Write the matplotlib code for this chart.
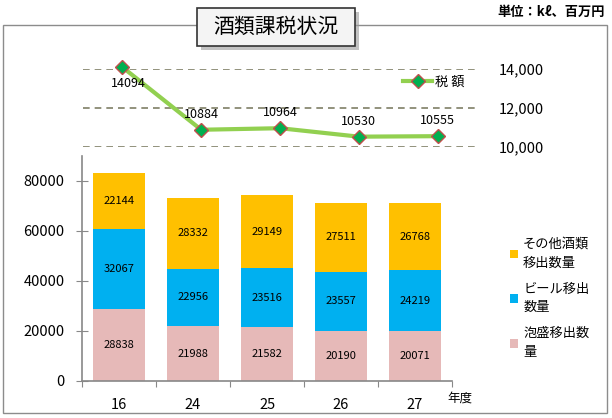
import numpy as np
import matplotlib
matplotlib.use("Agg")
import matplotlib.pyplot as plt
from matplotlib.patches import Rectangle

plt.rcParams['font.family'] = ['Noto Sans CJK JP', 'DejaVu Sans']

years = ['16', '24', '25', '26', '27']
awamori = [28838, 21988, 21582, 20190, 20071]
beer = [32067, 22956, 23516, 23557, 24219]
other = [22144, 28332, 29149, 27511, 26768]
tax = [14094, 10884, 10964, 10530, 10555]

c_awamori = '#E6B9B8'
c_beer = '#00B0F0'
c_other = '#FFC000'

W, H = 612, 418
fig = plt.figure(figsize=(6.12, 4.18), dpi=100)
fig.patch.set_facecolor('white')

def fx(px):
    return px / W

def fy(py):
    return 1 - py / H

# outer frame
fig.patches.append(Rectangle((fx(3), fy(413)), fx(604), 388 / H, transform=fig.transFigure,
                             fill=False, edgecolor='#8c8c8c', linewidth=1.0))

# ---- bar chart ----
ax = fig.add_axes([fx(82), fy(381), fx(370), (381 - 156) / H])
x = np.arange(len(years))
b1 = ax.bar(x, awamori, width=0.7, color=c_awamori, label='泡盛移出数\n量')
b2 = ax.bar(x, beer, width=0.7, bottom=awamori, color=c_beer, label='ビール移出\n数量')
bottom2 = np.array(awamori) + np.array(beer)
b3 = ax.bar(x, other, width=0.7, bottom=bottom2, color=c_other, label='その他酒類\n移出数量')
for bars in (b1, b2, b3):
    ax.bar_label(bars, label_type='center', fontsize=8, color='black')

ax.set_xlim(-0.5, len(years) - 0.5)
ax.set_ylim(0, 90000)
ax.set_yticks([0, 20000, 40000, 60000, 80000])
ax.set_yticklabels(['0', '20000', '40000', '60000', '80000'])
ax.set_xticks(np.arange(len(years) + 1) - 0.5)
ax.set_xticklabels([])
ax.set_xticks(x, minor=True)
ax.set_xticklabels(years, minor=True)
ax.tick_params(axis='x', which='major', direction='out', length=4, color='#888888')
ax.tick_params(axis='x', which='minor', length=0, pad=12, labelsize=10.5)
ax.tick_params(axis='y', direction='inout', length=9, color='#888888', labelsize=10.5, pad=8)
for s in ('top', 'right'):
    ax.spines[s].set_visible(False)
for s in ('left', 'bottom'):
    ax.spines[s].set_color('#888888')
    ax.spines[s].set_linewidth(1.2)

handles = [b3, b2, b1]
leg = fig.legend(handles, [h.get_label() for h in handles], loc='upper left',
                 bbox_to_anchor=(fx(498), fy(226)), frameon=False, fontsize=9.5,
                 handlelength=0.6, handleheight=0.6, handletextpad=0.4, labelspacing=1.0)
for t in leg.get_texts():
    t.set_linespacing(1.55)

fig.text(fx(460), fy(398), '年度', fontsize=9, ha='center', va='center')

# ---- line chart ----
ax2 = fig.add_axes([fx(83), fy(147), fx(394), (147 - 69) / H])
ax2.plot(x, tax, color='#92D050', linewidth=3, marker='D', markersize=7,
         markerfacecolor='#00B050', markeredgecolor='#C0504D', markeredgewidth=1,
         clip_on=False, zorder=3, label='税 額')
for i, v in enumerate(tax):
    if i == 0:
        ax2.annotate(str(v), (i, v), xytext=(4, -12), textcoords='offset points',
                     ha='center', va='center', fontsize=9, annotation_clip=False)
    else:
        ax2.annotate(str(v), (i, v), xytext=(0, 11), textcoords='offset points',
                     ha='center', va='center', fontsize=9, annotation_clip=False)
ax2.set_xlim(-0.5, len(years) - 0.5)
ax2.set_ylim(10000, 14000)
ax2.set_yticks([10000, 12000, 14000])
ax2.set_yticklabels(['10,000', '12,000', '14,000'])
ax2.yaxis.tick_right()
ax2.tick_params(axis='y', length=0, pad=16, labelsize=10.5)
ax2.set_xticks([])
ax2.grid(axis='y', color='#7F7F66', linestyle=(0, (4, 3)), linewidth=1.2)
ax2.set_axisbelow(True)
for s in ax2.spines.values():
    s.set_visible(False)
ax2.patch.set_alpha(0)
ax2.legend(loc='center left', bbox_to_anchor=(fx(398 - 83) / fx(394), 0.83), frameon=False,
           fontsize=9.5, handlelength=2.2, handletextpad=0.2, borderaxespad=0)

# ---- title box ----
fig.patches.append(Rectangle((fx(201), fy(50)), fx(158), 38 / H, transform=fig.transFigure,
                             facecolor='#9a9a9a', edgecolor='none', alpha=0.6))
fig.patches.append(Rectangle((fx(197), fy(46)), fx(158), 38 / H, transform=fig.transFigure,
                             facecolor='#f4f4f4', edgecolor='#333333', linewidth=1.2))
fig.text(fx(276), fy(27), '酒類課税状況', fontsize=15, ha='center', va='center')

fig.text(fx(605), fy(12), '単位：kℓ、百万円', fontsize=9.5, ha='right', va='center',
         fontweight='bold')

fig.savefig('out.png', dpi=100)
